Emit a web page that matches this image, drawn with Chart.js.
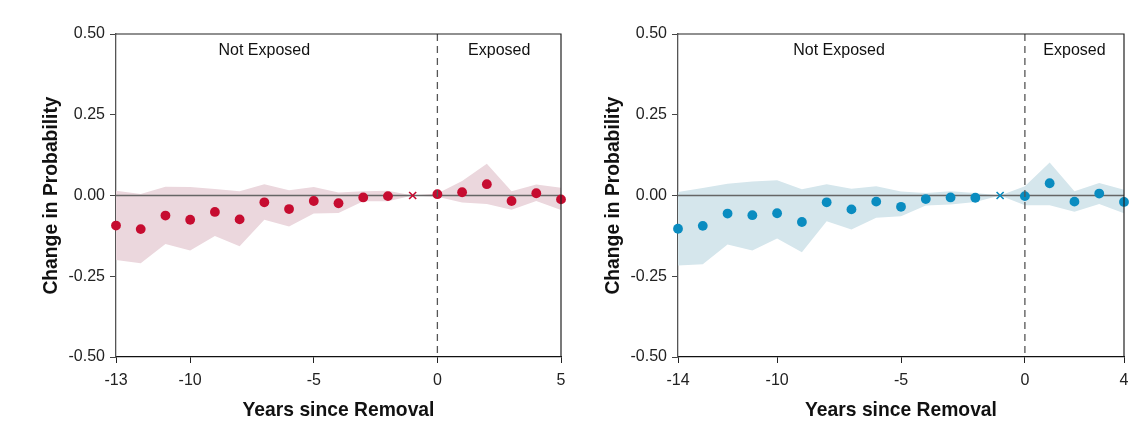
<!DOCTYPE html>
<html>
<head>
<meta charset="utf-8">
<script src="https://cdn.jsdelivr.net/npm/chart.js@4.4.1/dist/chart.umd.min.js"></script>
<style>
  body { margin: 0; background: #fff; }
  .panel { position: absolute; top: 0; width: 572px; height: 441px; }
</style>
</head>
<body>
<div class="panel" style="left:0"><canvas id="left-chart" width="572" height="441"></canvas></div>
<div class="panel" style="left:572px"><canvas id="right-chart" width="572" height="441"></canvas></div>
<script>
// reference year (omitted category, drawn as a cross)
const refYear = -1;
const yTicks = [-0.5, -0.25, 0, 0.25, 0.5];

// left panel
const leftYears = [-13, -12, -11, -10, -9, -8, -7, -6, -5, -4, -3, -2, -1, 0, 1, 2, 3, 4, 5];
const leftEst = [-0.093, -0.104, -0.062, -0.075, -0.051, -0.074, -0.021, -0.042, -0.017, -0.024, -0.006, -0.002, 0, 0.004, 0.010, 0.035, -0.017, 0.007, -0.012];
const leftUpper = [0.015, 0.005, 0.027, 0.026, 0.020, 0.013, 0.035, 0.016, 0.026, 0.009, 0.013, 0.015, 0, 0.006, 0.045, 0.098, 0.013, 0.034, 0.024];
const leftLower = [-0.200, -0.210, -0.150, -0.170, -0.125, -0.157, -0.075, -0.096, -0.056, -0.054, -0.018, -0.018, 0, -0.004, -0.022, -0.026, -0.044, -0.017, -0.045];
const leftXTicks = [-13, -10, -5, 0, 5];

// right panel
const rightYears = [-14, -13, -12, -11, -10, -9, -8, -7, -6, -5, -4, -3, -2, -1, 0, 1, 2, 3, 4];
const rightEst = [-0.103, -0.094, -0.056, -0.061, -0.055, -0.082, -0.021, -0.043, -0.019, -0.035, -0.011, -0.006, -0.007, 0, -0.002, 0.038, -0.019, 0.006, -0.020];
const rightUpper = [0.011, 0.023, 0.036, 0.043, 0.047, 0.019, 0.035, 0.021, 0.029, 0.012, 0.008, 0.013, 0.008, 0, 0.029, 0.102, 0.013, 0.039, 0.018];
const rightLower = [-0.217, -0.213, -0.152, -0.170, -0.133, -0.176, -0.080, -0.105, -0.069, -0.064, -0.031, -0.028, -0.020, 0, -0.030, -0.030, -0.050, -0.026, -0.055];
const rightXTicks = [-14, -10, -5, 0, 4];

const FONT = "'Liberation Sans', Arial, sans-serif";

// zero line, dashed line at 0, frame and the two region labels
const panelDecor = {
  id: 'panelDecor',
  afterDatasetDraw(chart, args) {
    if (args.index !== 2) return;
    const { ctx, chartArea, scales } = chart;
    const y0 = scales.y.getPixelForValue(0);
    ctx.save();
    ctx.strokeStyle = '#666';
    ctx.lineWidth = 1.5;
    ctx.beginPath();
    ctx.moveTo(chartArea.left, y0);
    ctx.lineTo(chartArea.right, y0);
    ctx.stroke();
    ctx.restore();
  },
  afterDraw(chart) {
    const { ctx, chartArea, scales } = chart;
    const x = scales.x;
    ctx.save();
    // dashed line at year 0
    const xz = x.getPixelForValue(0);
    ctx.strokeStyle = '#555';
    ctx.lineWidth = 1.3;
    ctx.setLineDash([7, 5]);
    ctx.beginPath();
    ctx.moveTo(xz, chartArea.top);
    ctx.lineTo(xz, chartArea.bottom);
    ctx.stroke();
    ctx.setLineDash([]);
    // top and right frame
    ctx.strokeStyle = '#222';
    ctx.lineWidth = 1.2;
    ctx.beginPath();
    ctx.moveTo(chartArea.left, chartArea.top);
    ctx.lineTo(chartArea.right, chartArea.top);
    ctx.lineTo(chartArea.right, chartArea.bottom);
    ctx.stroke();
    // region labels
    ctx.fillStyle = '#111';
    ctx.font = '16px ' + FONT;
    ctx.textAlign = 'center';
    ctx.textBaseline = 'middle';
    const ty = chartArea.top + 17;
    ctx.fillText('Not Exposed', x.getPixelForValue((x.min + refYear) / 2), ty);
    ctx.fillText('Exposed', x.getPixelForValue(x.max / 2), ty);
    ctx.restore();
  }
};

function makePanel(id, years, est, upper, lower, xTicks, dotColor, bandColor, yWidth, rightPad, yTitlePad) {
  const pts = years.map((yr, i) => yr === refYear ? null : { x: yr, y: est[i] }).filter(p => p);
  const ref = years.map((yr, i) => ({ x: yr, y: est[i] })).filter(p => p.x === refYear);
  return new Chart(document.getElementById(id), {
    type: 'scatter',
    data: {
      datasets: [
        { data: pts, backgroundColor: dotColor, borderColor: dotColor, pointRadius: 4.9, pointBorderWidth: 0, clip: false },
        { data: ref, pointStyle: 'crossRot', pointRadius: 5, borderColor: dotColor, pointBorderWidth: 1.6, clip: false },
        { type: 'line', data: years.map((yr, i) => ({ x: yr, y: upper[i] })), borderWidth: 0, pointRadius: 0, fill: '+1', backgroundColor: bandColor, tension: 0 },
        { type: 'line', data: years.map((yr, i) => ({ x: yr, y: lower[i] })), borderWidth: 0, pointRadius: 0, fill: false, tension: 0 },
      ],
    },
    options: {
      responsive: false,
      animation: false,
      layout: { padding: { top: 34, right: rightPad, left: 0, bottom: 0 } },
      plugins: { legend: { display: false }, tooltip: { enabled: false } },
      scales: {
        x: {
          type: 'linear',
          min: years[0],
          max: years[years.length - 1],
          afterBuildTicks: s => { s.ticks = xTicks.map(v => ({ value: v })); },
          afterFit: s => { s.height = 84; s.paddingLeft = 0; s.paddingRight = 0; },
          grid: { drawOnChartArea: false, drawTicks: true, tickLength: 6, color: '#222' },
          border: { color: '#111', width: 1.3 },
          ticks: { color: '#222', font: { family: FONT, size: 16 }, padding: 8, maxRotation: 0 },
          title: { display: true, text: 'Years since Removal', color: '#111', font: { family: FONT, size: 19.3, weight: 'bold' }, padding: { top: 0, bottom: 19 } },
        },
        y: {
          min: -0.5,
          max: 0.5,
          afterBuildTicks: s => { s.ticks = yTicks.map(v => ({ value: v })); },
          afterFit: s => { s.width = yWidth; s.paddingTop = 0; s.paddingBottom = 0; },
          grid: { drawOnChartArea: false, drawTicks: true, tickLength: 6, color: '#444' },
          border: { color: '#555', width: 1.3 },
          ticks: { color: '#222', font: { family: FONT, size: 16 }, padding: 5, callback: v => v.toFixed(2) },
          title: { display: true, text: 'Change in Probability', color: '#111', font: { family: FONT, size: 19.3, weight: 'bold' }, padding: { top: yTitlePad, bottom: 0 } },
        },
      },
    },
    plugins: [panelDecor],
  });
}

makePanel('left-chart', leftYears, leftEst, leftUpper, leftLower, leftXTicks, '#c60c30', '#ebd7dd', 116, 11, 40);
makePanel('right-chart', rightYears, rightEst, rightUpper, rightLower, rightXTicks, '#0a8cc0', '#d5e6ec', 106, 20, 30);
</script>
</body>
</html>
